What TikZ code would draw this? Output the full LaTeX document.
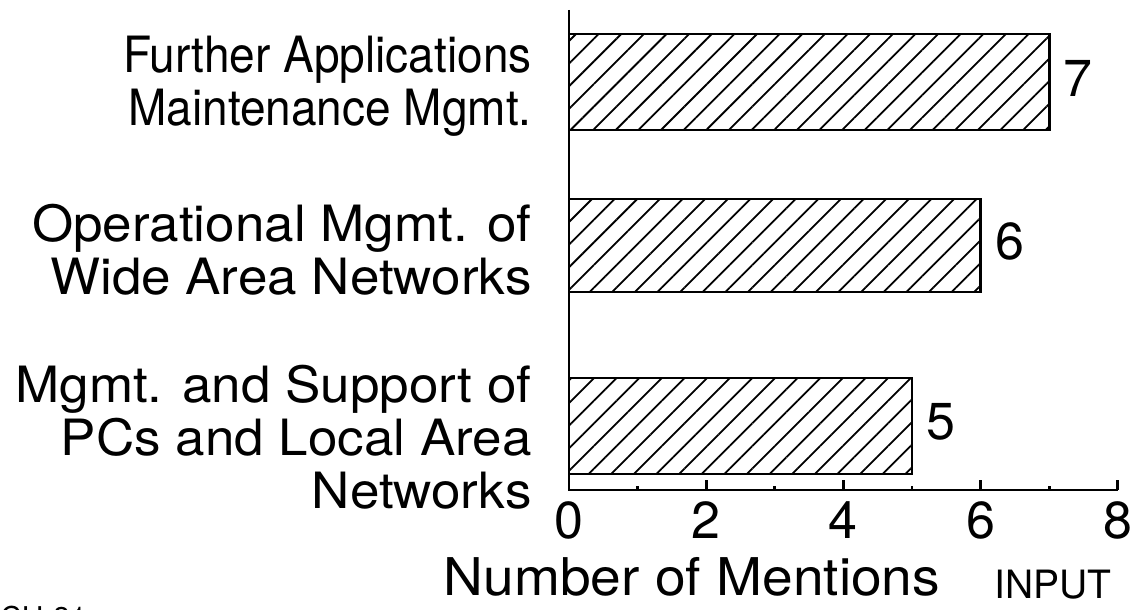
\documentclass[tikz,border=0pt]{standalone}
\usepackage{fontspec}
\setmainfont{TeX Gyre Heros}
\newfontfamily\narrowfont[FakeStretch=0.92]{TeX Gyre Heros}
\newfontfamily\widefont[FakeStretch=1.06]{TeX Gyre Heros}
\usetikzlibrary{patterns.meta}

\tikzset{
  hatched/.style={draw, line width=1.4pt,
    pattern={Lines[angle=45, distance=8pt, line width=0.9pt]}},
  axisline/.style={line width=1.4pt},
  catlabel/.style={anchor=east, align=right, inner sep=0pt,
    font=\widefont\fontsize{25}{26.5}\selectfont},
  numlabel/.style={inner sep=0pt, font=\fontsize{26}{26}\selectfont},
}

\begin{document}
\begin{tikzpicture}[x=0.5pt, y=-0.5pt]
  \useasboundingbox (0,0) rectangle (1136,610);

  % axes
  \coordinate (origin) at (569,490);
  \coordinate (ytop) at (569,10);
  \coordinate (xend) at (1118,490);
  \draw[axisline] (ytop) -- (origin) -- (xend);
  \foreach \t in {0,2,...,8}
    \draw[axisline] (569+68.6*\t,490) -- ++(0,-10)
      node[numlabel, anchor=base] (tick\t) at (569+68.6*\t,538) {\t};
  \foreach \t in {1,3,...,7}
    \draw[axisline] (569+68.6*\t,490) -- ++(0,-4);

  % bars
  \foreach \val/\top/\bot in {7/34/130, 6/199/292, 5/378/474} {
    \draw[hatched] (569,\top) rectangle (569+68.6*\val,\bot);
    \node[numlabel, anchor=west] (val\val) at (569+68.6*\val+14,\top/2+\bot/2-4) {\val};
  }

  % category labels
  \node[catlabel, font=\narrowfont\fontsize{25}{26.5}\selectfont] (cat7) at (532,86) {Further Applications\\Maintenance Mgmt.};
  \node[catlabel] (cat6) at (532,250) {Operational Mgmt. of\\Wide Area Networks};
  \node[catlabel] (cat5) at (532,437) {Mgmt. and Support of\\PCs and Local Area\\Networks};

  % axis title
  \node[inner sep=0pt, anchor=base, font=\widefont\fontsize{26}{26}\selectfont] (xtitle) at (692,595) {Number of Mentions};
  \node[inner sep=0pt, anchor=base, font=\fontsize{19.5}{19.5}\selectfont] (input) at (1053,598) {INPUT};
  \node[inner sep=0pt, anchor=base west, font=\fontsize{15}{15}\selectfont] (pageno) at (0,628) {CH-31};
\end{tikzpicture}
\end{document}
